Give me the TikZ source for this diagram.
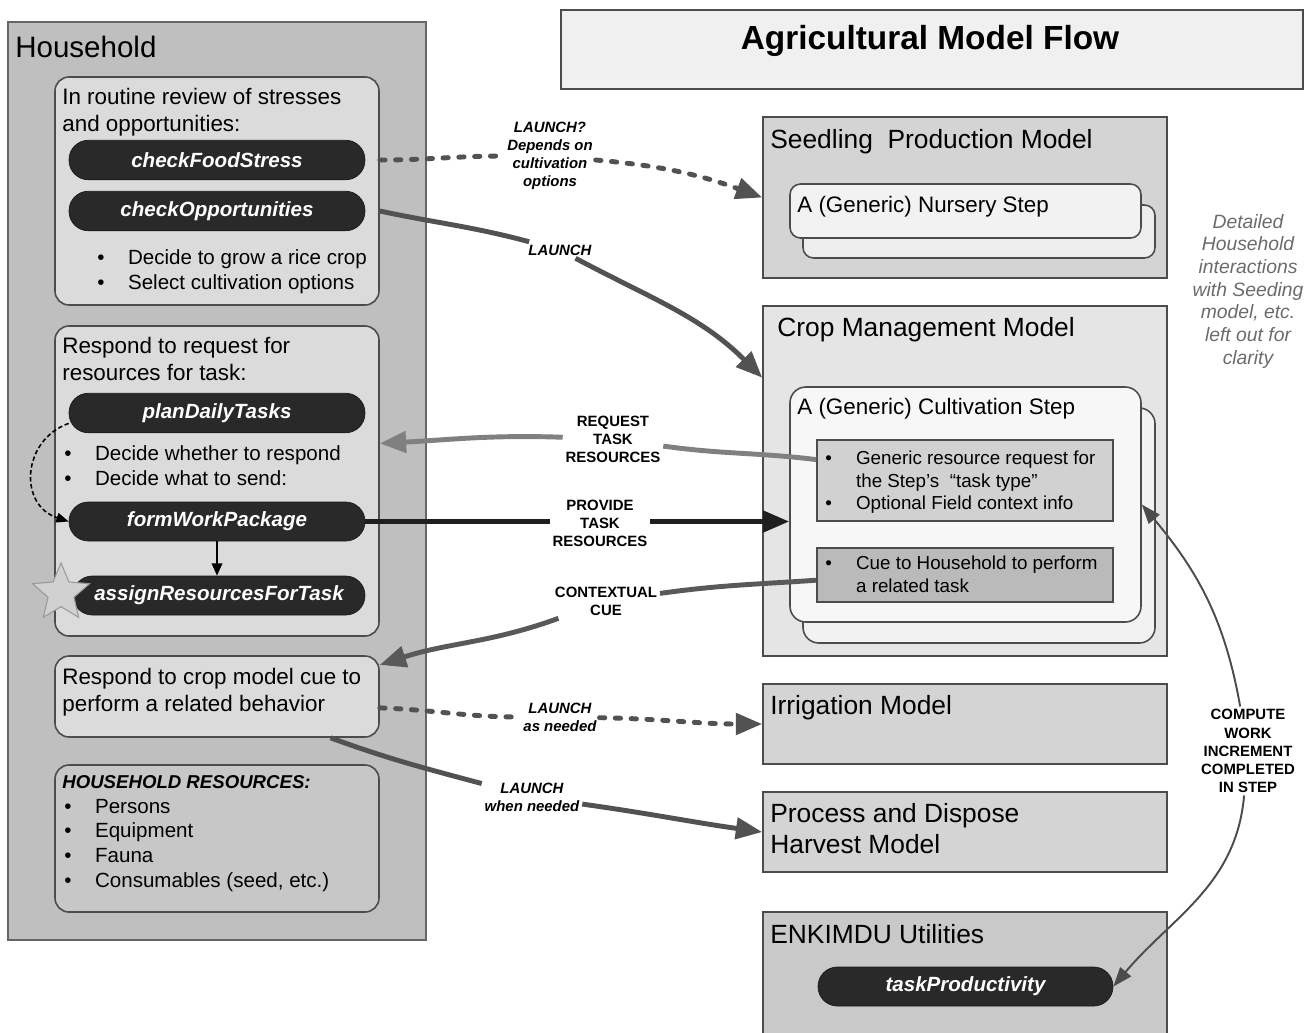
\documentclass[tikz,border=0pt]{standalone}
\usepackage{fontspec}
\setmainfont{Liberation Sans}
\usepackage{tikz}
\usetikzlibrary{arrows.meta,fit,shapes.geometric}
\def\fsz#1#2{\fontsize{#1}{#2}\selectfont}
\def\itembullet{\makebox[17.5pt][l]{\textbullet}}

\tikzset{
	box/.style={draw=black!70, line width=0.9pt, inner sep=0pt},
	hhbox/.style={box, rounded corners=8pt, fill=black!14},
	pill/.style={draw=black!90, fill=black!84, rounded corners=11pt, inner sep=0pt, minimum width=5.92cm, minimum height=0.79cm, text=white, font=\fsz{11.7}{14}\bfseries\itshape},
	txt/.style={anchor=north west, inner sep=0pt, align=left},
	tag/.style={fill=white, inner sep=1.5pt, align=center, font=\fsz{8.5}{10.3}\bfseries},
	itag/.style={tag, font=\fsz{8.5}{10.3}\bfseries\itshape},
	flow/.style={line width=2.8pt, draw=black!68, -{Triangle[length=15pt,width=12pt]}},
	dashflow/.style={flow, line cap=round, dash pattern=on 3pt off 6pt},
	workline/.style={line width=1.1pt, draw=black!70},
	worktip/.style={-{Triangle[length=11pt,width=8pt]}},
	stepflow/.style={line width=1pt, draw=black, -{Triangle[length=7pt,width=6pt]}},
	planflow/.style={line width=0.9pt, draw=black, dash pattern=on 2.5pt off 1.5pt, -{Triangle[length=7pt,width=5.5pt]}},
}

\begin{document}
\begin{tikzpicture}[x=0.02cm, y=-0.02cm]
	%%%%% START %%%%%
	\useasboundingbox (0,0) rectangle (1311,1032);
	\clip (0,0) rectangle (1311,1032);
	
	% household side
	\node[box, fill=black!25, draw=black!60, fit={(8,22) (426,940)}] (household) {};
	\node[txt, font=\fsz{16.8}{20}] (hhtitle) at (15,36) {Household};
	
	\node[hhbox, fit={(55,77) (379,305)}] (review) {};
	\node[txt, font=\fsz{12.75}{15.4}] (reviewtext) at (62,88) {In routine review of stresses\\and opportunities:};
	\node[pill] (foodstress) at (217,160) {checkFoodStress};
	\node[pill] (opportunities) at (217,211) {checkOpportunities};
	\node[txt, font=\fsz{11.7}{14.2}] (reviewlist) at (97,249.5) {\itembullet Decide to grow a rice crop\\\itembullet Select cultivation options};
	
	\node[hhbox, fit={(55,326) (379,636)}] (respond) {};
	\node[txt, font=\fsz{12.75}{15.4}] (respondtext) at (62,337) {Respond to request for\\resources for task:};
	\node[pill] (plan) at (217,413) {planDailyTasks};
	\node[txt, font=\fsz{11.7}{14.2}] (respondlist) at (64,445.5) {\itembullet Decide whether to respond\\\itembullet Decide what to send:};
	\node[pill, minimum height=0.78cm] (formwork) at (217,521.5) {formWorkPackage};
	\node[pill, minimum width=5.84cm, minimum height=0.78cm] (assign) at (219,595.5) {assignResourcesForTask};
	\node[star, star points=5, star point ratio=2.2, minimum size=1.2cm, inner sep=0pt, fill=black!18, draw=black!40, line width=0.6pt] (badge) at (61,593) {};
	
	\node[hhbox, fit={(55,656) (379,737)}] (react) {};
	\node[txt, font=\fsz{12.75}{15.4}] (reacttext) at (62,668) {Respond to crop model cue to\\perform a related behavior};
	
	\node[hhbox, fill=black!22, fit={(55,765) (379,912)}] (assets) {};
	\node[txt, font=\fsz{10.6}{13}\bfseries\itshape] (assetshead) at (62,775) {HOUSEHOLD RESOURCES:};
	\node[txt, font=\fsz{11.7}{14.2}] (assetslist) at (64,798.5) {\itembullet Persons\\\itembullet Equipment\\\itembullet Fauna\\\itembullet Consumables (seed, etc.)};
	
	% model side
	\node[box, fill=black!6, fit={(561,10) (1303,89)}] (titlebox) {};
	\node[font=\fsz{19}{23}\bfseries] (title) at (930,41) {Agricultural Model Flow};
	
	\node[box, fill=black!17, fit={(763,117) (1167,278)}] (seedling) {};
	\node[txt, font=\fsz{15}{18}] (seedlingtext) at (770,129) {Seedling\ \ Production Model};
	\node[box, rounded corners=6pt, fill=black!7, fit={(803,205) (1155,258)}] (nurseryback) {};
	\node[box, rounded corners=6pt, fill=black!5, fit={(790,184) (1141,238)}] (nursery) {};
	\node[txt, font=\fsz{12.75}{15.4}] (nurserytext) at (797,196) {A (Generic) Nursery Step};
	
	\node[box, fill=black!10, fit={(763,306) (1167,656)}] (crop) {};
	\node[txt, font=\fsz{15}{18}] (croptext) at (777,317) {Crop Management Model};
	\node[box, rounded corners=9pt, fill=black!5, fit={(803,408) (1155,643)}] (cultback) {};
	\node[box, rounded corners=9pt, fill=black!3, fit={(790,387) (1141,622)}] (cultfront) {};
	\node[txt, font=\fsz{12.75}{15.4}] (culttext) at (797,398) {A (Generic) Cultivation Step};
	\node[box, fill=black!18, fit={(817,440) (1113,521)}] (reqbox) {};
	\node[txt, font=\fsz{10.7}{12.8}] (reqtext) at (825,451) {\itembullet Generic resource request for\\\hspace*{17.5pt}the Step's\ \ “task type”\\\itembullet Optional Field context info};
	\node[box, fill=black!27, fit={(817,548) (1113,602)}] (cuebox) {};
	\node[txt, font=\fsz{10.7}{12.8}] (cuetext) at (825,556) {\itembullet Cue to Household to perform\\\hspace*{17.5pt}a related task};
	
	\node[box, fill=black!17, fit={(763,684) (1167,764)}] (irrigation) {};
	\node[txt, font=\fsz{15}{18}] (irrigationtext) at (770,695) {Irrigation Model};
	\node[box, fill=black!17, fit={(763,792) (1167,872)}] (harvest) {};
	\node[txt, font=\fsz{15}{17.6}] (harvesttext) at (770,803) {Process and Dispose\\Harvest Model};
	\node[box, fill=black!21, fit={(763,912) (1167,1060)}] (utilities) {};
	\node[txt, font=\fsz{15}{18}] (utilitiestext) at (770,924) {ENKIMDU Utilities};
	\node[pill, minimum width=5.9cm, minimum height=0.78cm] (taskprod) at (965.5,986.5) {taskProductivity};
	
	\node[font=\fsz{11}{12.9}\itshape, text=black!58, align=center] (sidenote) at (1248,291) {Detailed\\Household\\interactions\\with Seeding\\model, etc.\\left out for\\clarity};
	
	% connector labels
	\node[itag] (tagseed) at (550,156) {LAUNCH?\\Depends on\\cultivation\\options};
	\node[itag] (taglaunch) at (560,250) {LAUNCH};
	\node[tag] (tagrequest) at (613,439) {REQUEST\\TASK\\RESOURCES};
	\node[tag] (tagprovide) at (600,523) {PROVIDE\\TASK\\RESOURCES};
	\node[tag] (tagcue) at (606,601) {CONTEXTUAL\\CUE};
	\node[itag] (tagirr) at (560,717) {LAUNCH\\as needed};
	\node[itag] (tagharv) at (532,797) {LAUNCH\\when needed};
	\node[tag] (tagwork) at (1248,751) {COMPUTE\\WORK\\INCREMENT\\COMPLETED\\IN STEP};
	
	% connectors
	\draw[dashflow] (review.east |- foodstress.east) to[out=0,in=180] (tagseed) to[out=-5,in=160] (seedling.west);
	\draw[flow] (review.east |- opportunities.east) to[out=-12,in=165] (taglaunch) to[out=-28,in=135] (crop.153);
	\draw[flow, draw=black!50] (reqbox.172) to[out=173,in=-8] (tagrequest) to[out=178,in=3] (respond.13);
	\draw[flow, draw=black!88] (formwork.east) -- (tagprovide.west |- formwork.east) (tagprovide.east |- formwork.east) -- (cultfront.west |- formwork.east);
	\draw[flow, draw=black!65] (cuebox.182) to[out=184,in=8] (tagcue) to[out=200,in=18] (react.11);
	\draw[dashflow] (react.-4) to[out=-2,in=180] (tagirr) to[out=-1,in=180] (irrigation.west);
	\draw[flow] (react.-20) to[out=-20,in=165] (tagharv) to[out=-8,in=172] (harvest.west);
	\draw[workline, worktip] (tagwork) to[out=100,in=-50] (cultfront.east);
	\draw[workline, worktip] (tagwork) to[out=-95,in=50] (taskprod.east);
	\draw[stepflow] (formwork.south) -- (formwork.south |- assign.north);
	\draw[planflow] (plan.184) .. controls (22,440) and (18,505) .. (formwork.west);
	
	%%%%% END %%%%%
\end{tikzpicture}
\end{document}
